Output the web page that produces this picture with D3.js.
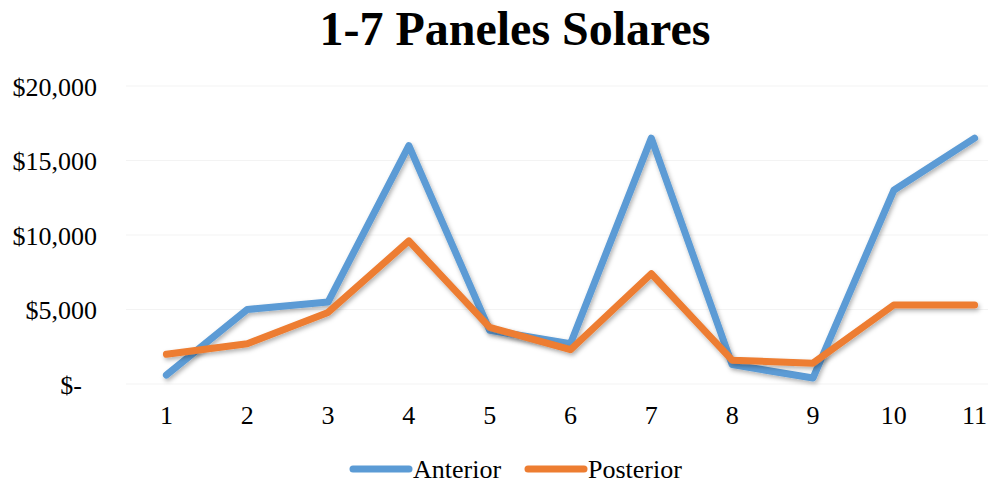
<!DOCTYPE html>
<html><head><meta charset="utf-8">
<script src="https://cdn.jsdelivr.net/npm/d3@7"></script>
<style>body{margin:0;background:#fff}svg{display:block}text{font-family:"Liberation Serif","Times New Roman",serif}</style>
</head><body>
<svg id="c" width="988" height="486"></svg>
<script>
const categories = ["1","2","3","4","5","6","7","8","9","10","11"];
const anterior  = [600, 5000, 5500, 16000, 3600, 2700, 16500, 1300, 400, 13000, 16500];
const posterior = [2000, 2700, 4800, 9600, 3800, 2300, 7400, 1600, 1400, 5300, 5300];
const yTicks = [0, 5000, 10000, 15000, 20000];
const seriesNames = ["Anterior", "Posterior"];
const colors = ["#5B9BD5", "#ED7D31"];
const title = "1-7 Paneles Solares";

(function(){
const svg = d3.select("#c");
const W = 988, H = 486;
const pL = 126, pR = 1015, pT = 86, pB = 384;

const defs = svg.append("defs");
const f = defs.append("filter").attr("id","sh").attr("x","-10%").attr("y","-10%").attr("width","120%").attr("height","130%");
f.append("feDropShadow").attr("dx",1.5).attr("dy",2.5).attr("stdDeviation",2).attr("flood-color","#000").attr("flood-opacity",0.3);

svg.append("text").attr("x",515).attr("y",45).attr("text-anchor","middle")
  .attr("font-size",48).attr("font-weight","bold").attr("fill","#000").text(title);

const x = d3.scaleBand().domain(categories).range([pL,pR]);
const y = d3.scaleLinear().domain([0,20000]).range([pB,pT]);

svg.append("g").selectAll("line").data(yTicks).join("line")
  .attr("x1",pL).attr("x2",W).attr("y1",d=>y(d)).attr("y2",d=>y(d))
  .attr("stroke","#f3f3f3").attr("stroke-width",1);

const fmt = d => d === 0 ? "$-" : "$" + d3.format(",")(d);
const ya = svg.append("g").attr("transform",`translate(${97},0)`)
  .call(d3.axisLeft(y).tickValues(yTicks).tickFormat(fmt).tickSize(0).tickPadding(0));
ya.select(".domain").remove();
ya.selectAll("text").attr("font-size",26).attr("fill","#000").attr("font-family","Liberation Serif")
  .attr("dy","0.35em").attr("dx",d=>d===0?-15:0);

const xa = svg.append("g").attr("transform",`translate(0,${pB})`)
  .call(d3.axisBottom(x).tickSize(0).tickPadding(0));
xa.select(".domain").remove();
xa.selectAll("text").attr("font-size",26).attr("fill","#000").attr("font-family","Liberation Serif")
  .attr("y",40).attr("dy",0);

const line = d3.line().x((d,i)=>x(categories[i])+x.bandwidth()/2).y(d=>y(d)).curve(d3.curveLinear);
[anterior, posterior].forEach((s,k)=>{
  svg.append("path").datum(s).attr("d",line).attr("fill","none")
    .attr("stroke",colors[k]).attr("stroke-width",7).attr("stroke-linejoin","round").attr("stroke-linecap","round")
    .attr("filter","url(#sh)");
});

const lg = svg.append("g");
const lx = [353, 528];
seriesNames.forEach((n,k)=>{
  lg.append("line").attr("x1",lx[k]).attr("x2",lx[k]+56).attr("y1",469).attr("y2",469)
    .attr("stroke",colors[k]).attr("stroke-width",7).attr("stroke-linecap","round");
  lg.append("text").attr("x",lx[k]+60).attr("y",478).attr("font-size",26).attr("fill","#000").text(n);
});
})();
</script>
</body></html>
